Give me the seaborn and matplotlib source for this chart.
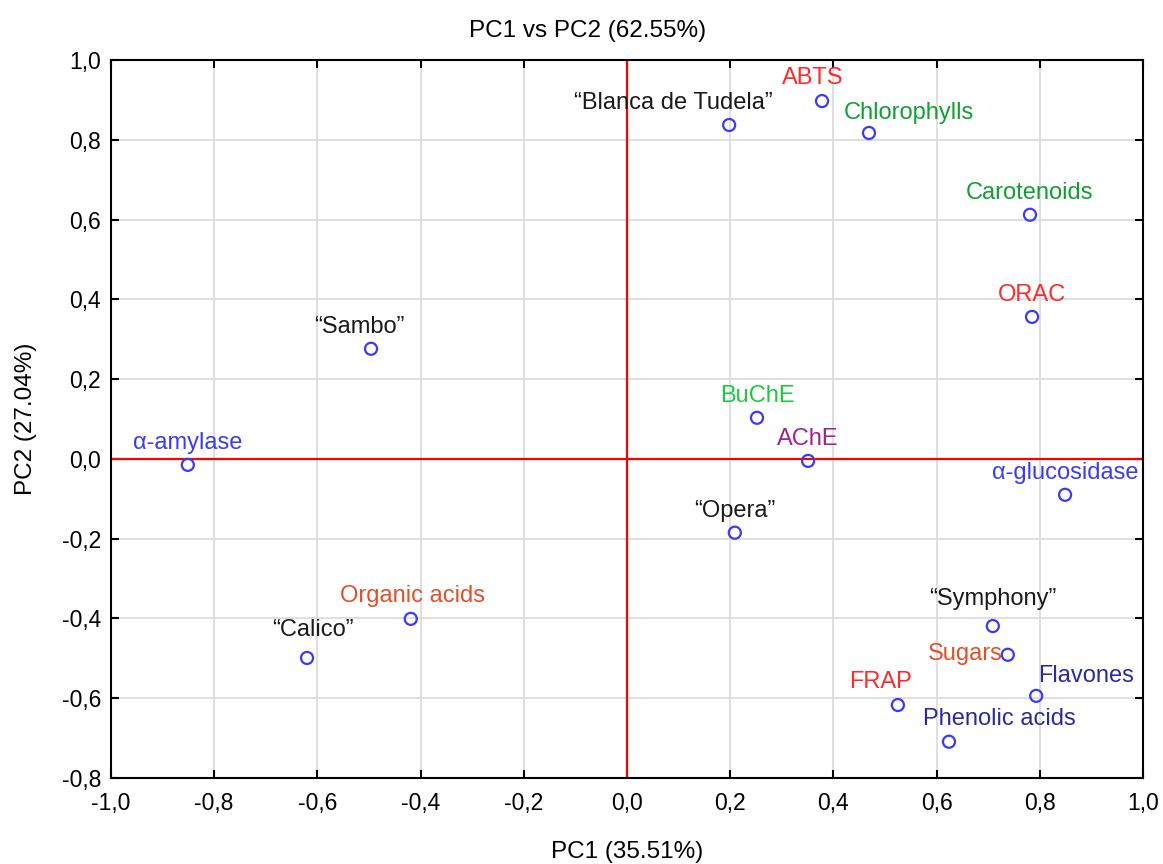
import seaborn as sns
import pandas as pd
import matplotlib.pyplot as plt
from matplotlib.ticker import FuncFormatter

labels = ["“Blanca de Tudela”", "ABTS", "Chlorophylls", "Carotenoids", "ORAC",
          "“Sambo”", "BuChE", "AChE", "α-amylase", "α-glucosidase", "“Opera”",
          "Organic acids", "“Calico”", "“Symphony”", "Sugars", "Flavones",
          "FRAP", "Phenolic acids"]
pc1 = [0.198, 0.378, 0.469, 0.781, 0.785, -0.496, 0.252, 0.351, -0.851, 0.849,
       0.209, -0.419, -0.620, 0.709, 0.738, 0.793, 0.525, 0.624]
pc2 = [0.837, 0.897, 0.817, 0.612, 0.356, 0.276, 0.103, -0.005, -0.015, -0.090,
       -0.185, -0.401, -0.499, -0.419, -0.491, -0.594, -0.617, -0.709]
groups = ["cultivar", "red", "green", "green", "red", "cultivar", "green2",
          "purple", "blue", "blue", "cultivar", "orange", "cultivar", "cultivar",
          "orange", "navy", "red", "navy"]

colors = {"cultivar": "#1a1a1a", "red": "#ff2a2a", "green": "#10a030",
          "green2": "#20c840", "purple": "#a0209a", "blue": "#3a3aff",
          "orange": "#e0502a", "navy": "#2a2aa0"}

# label offsets in pixels (dx, dy) relative to the point
offsets = {"“Blanca de Tudela”": (-56, 22), "Chlorophylls": (40, 20),
           "Sugars": (-42, 1), "Flavones": (50, 20), "FRAP": (-17, 23),
           "Phenolic acids": (50, 23), "Organic acids": (2, 23),
           "“Calico”": (6, 28), "“Sambo”": (-12, 22), "“Symphony”": (0, 27),
           "ABTS": (-9, 23)}

df = pd.DataFrame({"label": labels, "PC1": pc1, "PC2": pc2, "group": groups})

plt.rcParams["font.family"] = ["Liberation Sans", "DejaVu Sans"]
fig = plt.figure(figsize=(11.63, 8.64), dpi=100)
ax = fig.add_axes([0.0954, 0.0995, 0.8874, 0.8311])

ax.set_axisbelow(True)
ax.grid(True, color="#dcdcdc", linewidth=1.3)
ax.axhline(0, color="red", linewidth=1.6, zorder=2)
ax.axvline(0, color="red", linewidth=1.6, zorder=2)

sns.scatterplot(data=df, x="PC1", y="PC2", ax=ax, s=75, facecolors="none",
                edgecolor="#3a3aff", linewidth=1.6, zorder=3)

for _, r in df.iterrows():
    dx, dy = offsets.get(r["label"], (0, 22))
    ax.annotate(r["label"], (r["PC1"], r["PC2"]), xytext=(dx * 0.72, dy * 0.72),
                textcoords="offset points", ha="center", va="center",
                fontsize=17, color=colors[r["group"]], zorder=4)

ax.set_xlim(-1.0, 1.0)
ax.set_ylim(-0.8, 1.0)
ax.set_xticks([i / 10 for i in range(-10, 11, 2)])
ax.set_yticks([i / 10 for i in range(-8, 11, 2)])
fmt = FuncFormatter(lambda v, p: f"{v:.1f}".replace(".", ",").replace("-0,0", "0,0"))
ax.xaxis.set_major_formatter(fmt)
ax.yaxis.set_major_formatter(fmt)
ax.tick_params(direction="in", length=6, width=1.5, top=True, right=True,
               labelsize=16.5, colors="black")
ax.tick_params(axis="x", pad=10)
ax.tick_params(axis="y", pad=7)
for sp in ax.spines.values():
    sp.set_linewidth(1.5)
    sp.set_color("black")

ax.set_xlabel("PC1 (35.51%)", fontsize=17.5, va="center")
ax.xaxis.set_label_coords(0.5, -0.103)
ax.set_ylabel("PC2 (27.04%)", fontsize=17.5, va="center")
ax.yaxis.set_label_coords(-0.082, 0.5)
fig.text(0.505, 0.964, "PC1 vs PC2 (62.55%)", fontsize=17.5,
         ha="center", va="center")

fig.savefig("out.png", dpi=100)
